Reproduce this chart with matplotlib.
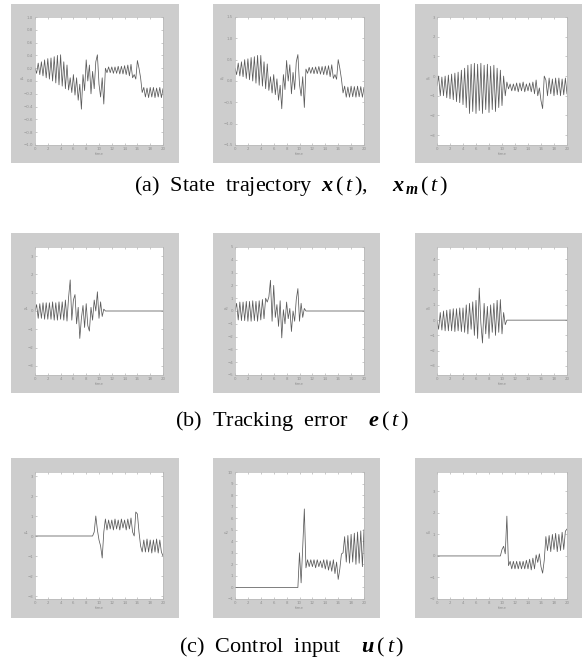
import numpy as np
import matplotlib
matplotlib.use("Agg")
import matplotlib.pyplot as plt
from matplotlib.patches import Rectangle

# sample times (s) shared by every panel
t = np.arange(0, 20.25, 0.25)

# (a) state trajectory
x_1 = [0.20, 0.12, 0.28, 0.10, 0.30, 0.08, 0.33, 0.05, 0.35, 0.03, 0.36, 0.00, 0.38, -0.03, 0.40, -0.06,
       0.41, -0.08, 0.30, -0.12, 0.25, -0.14, 0.05, -0.18, 0.10, -0.22, 0.05, -0.30, -0.05, -0.44, 0.10, -0.15,
       0.33, 0.00, 0.25, -0.20, 0.15, -0.12, 0.30, 0.41, -0.05, -0.25, 0.05, -0.36, 0.20, 0.13, 0.22, 0.13,
       0.22, 0.12, 0.22, 0.12, 0.23, 0.11, 0.23, 0.11, 0.24, 0.10, 0.25, 0.08, 0.26, 0.05, 0.10, 0.03, 0.32,
       0.20, 0.05, -0.18, -0.10, -0.25, -0.11, -0.26, -0.10, -0.25, -0.10, -0.26, -0.11, -0.25, -0.10, -0.26, -0.12]
x_2 = [0.30, 0.15, 0.42, 0.12, 0.45, 0.10, 0.50, 0.06, 0.52, 0.03, 0.55, 0.00, 0.57, -0.05, 0.60, -0.10,
       0.60, -0.12, 0.45, -0.18, 0.40, -0.22, 0.10, -0.28, 0.15, -0.32, 0.05, -0.45, -0.10, -0.65, 0.15, -0.20,
       0.48, 0.00, 0.38, -0.30, 0.20, -0.20, 0.45, 0.62, -0.08, -0.35, 0.10, -0.62, 0.28, 0.18, 0.32, 0.18,
       0.32, 0.17, 0.33, 0.17, 0.34, 0.16, 0.34, 0.15, 0.35, 0.14, 0.36, 0.10, 0.38, 0.06, 0.15, 0.04, 0.50,
       0.30, 0.05, -0.28, -0.12, -0.38, -0.14, -0.38, -0.12, -0.37, -0.13, -0.38, -0.12, -0.37, -0.13, -0.38, -0.15]
x_3 = [-0.5, 0.0, -1.0, -0.05, -1.0, 0.0, -1.1, 0.05, -1.15, 0.1, -1.2, 0.15, -1.3, 0.2, -1.35, 0.3,
       -1.45, 0.4, -1.6, 0.55, -1.9, 0.6, -1.8, 0.65, -1.9, 0.6, -1.75, 0.65, -1.9, 0.55, -1.7, 0.6,
       -1.85, 0.5, -1.7, 0.55, -1.8, 0.4, -1.6, 0.3, -1.5, 0.0, -1.0, -0.3, -0.65, -0.4, -0.75, -0.4,
       -0.75, -0.35, -0.8, -0.35, -0.75, -0.3, -0.8, -0.4, -0.75, -0.35, -0.8, -0.3, -0.9, -0.2, -1.0, -0.6,
       -1.25, -1.65, 0.0, -0.2, -1.0, -0.1, -0.9, -0.15, -1.0, -0.1, -0.95, -0.1, -1.0, -0.15, -0.95, -0.1, -0.9]

# (b) tracking error
e_1 = [0.0, 0.35, -0.4, 0.4, -0.4, 0.45, -0.45, 0.45, -0.45, 0.45, -0.45, 0.5, -0.5, 0.45, -0.5, 0.5,
       -0.45, 0.5, -0.5, 0.6, -0.55, 0.75, 1.7, -0.5, 0.6, 0.9, -0.7, 0.2, -1.5, -0.4, 0.3, -0.9,
       0.4, -0.8, -1.1, 0.2, -0.5, 0.6, 0.0, 1.05, -0.4, 0.5, -0.3, 0.1, 0, 0, 0, 0,
       0, 0, 0, 0, 0, 0, 0, 0, 0, 0, 0, 0, 0, 0, 0, 0, 0,
       0, 0, 0, 0, 0, 0, 0, 0, 0, 0, 0, 0, 0, 0, 0, 0]
e_2 = [0.0, 0.6, -0.7, 0.7, -0.75, 0.7, -0.75, 0.75, -0.8, 0.75, -0.8, 0.8, -0.75, 0.75, -0.8, 0.8,
       -0.7, 0.9, -0.6, 1.0, 0.7, 1.1, 2.4, -0.8, 2.0, -0.5, 0.5, -1.2, 0.8, -2.1, 0.1, -1.0,
       0.7, -0.6, 0.2, -1.6, 0.0, -0.8, 0.9, 1.75, -0.8, 0.6, -0.5, 0.2, 0, 0, 0, 0,
       0, 0, 0, 0, 0, 0, 0, 0, 0, 0, 0, 0, 0, 0, 0, 0, 0,
       0, 0, 0, 0, 0, 0, 0, 0, 0, 0, 0, 0, 0, 0, 0, 0]
e_3 = [0.0, -0.6, 0.5, -0.65, 0.6, -0.7, 0.65, -0.7, 0.7, -0.7, 0.75, -0.75, 0.75, -0.7, 0.8, -0.75,
       0.8, -0.8, 1.0, -0.9, 1.1, -0.6, 1.2, -1.0, 1.3, -1.2, 2.1, -0.2, -1.5, 1.1, -0.9, 0.9,
       -1.2, 1.0, -0.8, 1.1, -1.0, 1.3, -0.8, 1.35, -0.9, 0.5, -0.3, 0.0, 0, 0, 0, 0,
       0, 0, 0, 0, 0, 0, 0, 0, 0, 0, 0, 0, 0, 0, 0, 0, 0,
       0, 0, 0, 0, 0, 0, 0, 0, 0, 0, 0, 0, 0, 0, 0, 0]

# (c) control input
u_1 = [0, 0, 0, 0, 0, 0, 0, 0, 0, 0, 0, 0, 0, 0, 0, 0, 0, 0, 0, 0, 0, 0, 0, 0, 0, 0, 0, 0, 0, 0,
       0, 0, 0, 0, 0, 0, 0, 0.2, 1.0, 0.3, -0.2, -0.5, -1.1, 0.2, 0.85, 0.3, 0.8, 0.35, 0.8, 0.3,
       0.85, 0.35, 0.8, 0.3, 0.85, 0.4, 0.8, 0.3, 0.85, 0.35, 0.9, 0.2, 0.0, 1.2, 1.1, 0.2, -0.5,
       -0.8, -0.2, -0.8, -0.15, -0.8, -0.2, -0.85, -0.2, -0.8, -0.15, -0.85, -0.2, -0.8, -1.0]
u_2 = [0, 0, 0, 0, 0, 0, 0, 0, 0, 0, 0, 0, 0, 0, 0, 0, 0, 0, 0, 0, 0, 0, 0, 0, 0, 0, 0, 0, 0, 0,
       0, 0, 0, 0, 0, 0, 0, 0, 0, 0.0, 3.0, 0.4, 3.5, 6.8, 1.7, 2.4, 1.8, 2.4, 1.8, 2.4, 1.7, 2.4,
       1.8, 2.3, 1.7, 2.4, 1.6, 2.4, 1.5, 2.3, 1.4, 2.4, 1.2, 2.2, 0.7, 1.6, 2.9, 3.0, 4.4, 2.2,
       4.5, 2.1, 4.6, 2.2, 4.7, 2.0, 4.8, 2.1, 4.9, 1.8, 5.0]
u_3 = [0, 0, 0, 0, 0, 0, 0, 0, 0, 0, 0, 0, 0, 0, 0, 0, 0, 0, 0, 0, 0, 0, 0, 0, 0, 0, 0, 0, 0, 0,
       0, 0, 0, 0, 0, 0, 0, 0, 0, 0, 0.3, 0.45, 0.1, 1.85, -0.45, -0.25, -0.6, -0.25, -0.6, -0.25,
       -0.6, -0.25, -0.6, -0.25, -0.6, -0.2, -0.6, -0.15, -0.65, -0.1, -0.6, 0.05, -0.3, 0.1, -0.5,
       -0.8, -0.2, 0.9, 0.25, 0.95, 0.2, 1.0, 0.3, 1.05, 0.2, 1.0, 0.25, 1.1, 0.3, 1.15, 1.25]

rows = [[x_1, x_2, x_3], [e_1, e_2, e_3], [u_1, u_2, u_3]]
ylims = [[(-1, 1), (-1.5, 1.5), (-3.5, 3)],
         [(-3.5, 3.5), (-5, 5), (-3.6, 4.8)],
         [(-3.15, 3.2), (-1, 10), (-2, 3.9)]]
ysteps = [[0.2, 0.5, 1], [1, 1, 1], [1, 1, 1]]
ylabels = [["x1", "x2", "x3"], ["e1", "e2", "e3"], ["u1", "u2", "u3"]]
captions = [r"(a)  State  trajectory  $\mathbf{x}\,(\,\mathit{t}\,),\quad\ \mathbf{x}_{\,\mathbf{m}}\,(\,\mathit{t}\,)$",
            r"(b)  Tracking  error    $\mathbf{e}\,(\,\mathit{t}\,)$",
            r"(c)  Control  input    $\mathbf{u}\,(\,\mathit{t}\,)$"]

plt.rcParams["mathtext.fontset"] = "custom"
plt.rcParams["mathtext.rm"] = "Liberation Serif"
plt.rcParams["mathtext.it"] = "Liberation Serif:italic"
plt.rcParams["mathtext.bf"] = "Liberation Serif:bold:italic"

W, H = 583, 664
fig = plt.figure(figsize=(W / 100, H / 100), dpi=100)

# pixel boxes
col_bg = [(11, 179), (213, 380), (415, 582)]
col_ax = [(35, 163), (235, 364), (437, 567)]
row_bg = [(4, 163), (233, 393), (458, 618)]
row_ax = [(17, 145), (247, 375), (472, 599)]
cap_y = [186, 421, 647]

for r in range(3):
    for c in range(3):
        bx0, bx1 = col_bg[c]
        by0, by1 = row_bg[r]
        fig.patches.append(Rectangle((bx0 / W, 1 - by1 / H), (bx1 - bx0) / W, (by1 - by0) / H,
                                     transform=fig.transFigure, facecolor="#cdcdcd",
                                     edgecolor="none", zorder=-5))
        ax0, ax1 = col_ax[c]
        ay0, ay1 = row_ax[r]
        ax = fig.add_axes([ax0 / W, 1 - ay1 / H, (ax1 - ax0) / W, (ay1 - ay0) / H])
        ax.set_zorder(1)
        ax.plot(t, rows[r][c], color="#5a5a5a", lw=0.55)
        ax.set_xlim(0, 20)
        lo, hi = ylims[r][c]
        ax.set_ylim(lo, hi)
        st = ysteps[r][c]
        ax.set_xticks(np.arange(0, 21, 2))
        ax.set_yticks(np.arange(np.ceil(lo / st) * st, hi + 1e-9, st))
        ax.tick_params(direction="in", length=1.5, width=0.4, colors="#a0a0a0",
                       labelsize=2.8, labelcolor="#909090", pad=1.5,
                       top=True, right=True)
        for s in ax.spines.values():
            s.set_color("#b8b8b8")
            s.set_linewidth(0.5)
        ax.set_xlabel("time", fontsize=2.8, color="#909090", labelpad=1)
        ax.set_ylabel(ylabels[r][c], fontsize=2.8, color="#909090", labelpad=1, rotation=0)
    fig.text(0.5, 1 - cap_y[r] / H, captions[r], ha="center", va="center",
             fontsize=16, family="Liberation Serif")

fig.savefig("out.png", dpi=100, facecolor="white")
